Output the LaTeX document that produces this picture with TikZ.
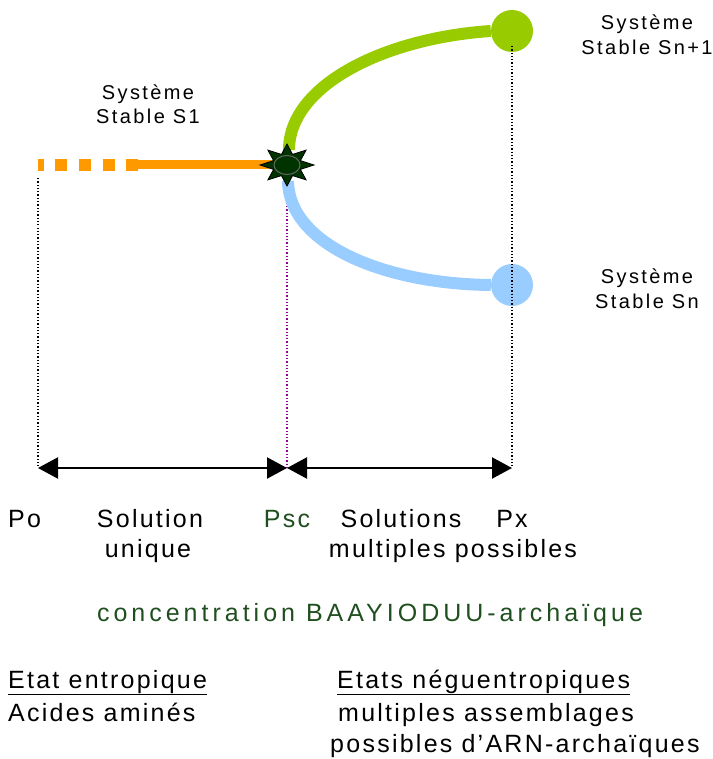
\documentclass[tikz,border=0pt]{standalone}
\usepackage{fontspec}
\setmainfont{Liberation Sans}[LetterSpace=9]
\newfontfamily\widefont{Liberation Sans}[LetterSpace=16]
\newfontfamily\sysfont{Liberation Sans}[LetterSpace=12]
\usetikzlibrary{shapes.geometric,arrows.meta}
\definecolor{orng}{HTML}{FF9900}
\definecolor{lgreen}{HTML}{99CC00}
\definecolor{lblue}{HTML}{99CCFF}
\definecolor{purp}{HTML}{990099}
\definecolor{dgreen}{HTML}{1F4F1F}
\definecolor{starcol}{HTML}{003300}
\tikzset{
  lbl/.style={font=\fontsize{25}{30}\selectfont, inner sep=0pt},
  sys/.style={font=\sysfont\fontsize{20}{24}\selectfont, inner sep=0pt, anchor=base},
  guide/.style={dotted, line width=1.3pt},
  span/.style={line width=2.2pt, {Triangle[length=20pt,width=21pt]}-{Triangle[length=20pt,width=21pt]}},
  disc/.style={circle, minimum size=42pt, inner sep=0pt},
}
\begin{document}
\begin{tikzpicture}[x=1pt,y=-1pt]
\useasboundingbox (0,0) rectangle (712,759);
% key coordinates
\coordinate (o) at (38,165);
\coordinate (dashend) at (138,165);
\coordinate (c) at (287,165);
\coordinate (a0) at (38,468);
\coordinate (a1) at (287,468);
\coordinate (a2) at (512,468);
\coordinate (g0) at (38,178);
\coordinate (g1) at (287,183);
\coordinate (g2) at (512,46);
\coordinate (gstart) at (289,150);
\coordinate (bstart) at (288,181);
% guides
\draw[guide, black] (g0) -- (a0);
\draw[guide, purp] (g1) -- (a1);
% discs
\node[disc, fill=lgreen] (ntop) at (512,31) {};
\node[disc, fill=lblue] (nbot) at (512,285) {};
\draw[guide, black] (g2) -- (a2);
% orange line
\draw[orng, line width=12pt, dash pattern=on 6pt off 11pt on 12pt off 12pt on 12pt off 12pt on 12pt off 11pt on 12pt off 100pt] (o) -- (dashend);
\draw[orng, line width=9pt] (dashend) -- (c);
% curves
\draw[lgreen, line width=12pt] (gstart) .. controls (289,85) and (385,38) .. (ntop.west);
\draw[lblue, line width=12pt] (bstart) .. controls (289,245) and (385,284) .. (nbot.west);
% star
\draw[fill=starcol, draw=black, line width=0.8pt, shift={(c)}]
  plot[samples at={0,22.5,...,337.5}, variable=\a]
  ({(mod(\a,45)==0 ? 27 : 14.5)*cos(\a)}, {(mod(\a,45)==0 ? 21 : 11.5)*sin(\a)}) -- cycle;
\node[ellipse, minimum width=26pt, minimum height=19pt, fill=starcol, draw=black!60, line width=1pt, inner sep=0pt] (core) at (c) {};
% arrows
\draw[span] (a0) -- (a1);
\draw[span] (a1) -- (a2);
% system labels
\node[sys] (s1a) at (148,100) {Système};
\node[sys] (s1b) at (148,124) {Stable S1};
\node[sys] (sn1a) at (647,30) {Système};
\node[sys] (sn1b) at (647,55) {Stable Sn+1};
\node[sys] (sna) at (647,283) {Système};
\node[sys] (snb) at (647,308) {Stable Sn};
% axis labels
\node[lbl, anchor=base west] (po) at (8,527) {Po};
\node[lbl, anchor=base] (sol) at (150,527) {Solution};
\node[lbl, anchor=base] (uni) at (148,557) {unique};
\node[lbl, anchor=base, text=dgreen] (psc) at (287,527) {Psc};
\node[lbl, anchor=base] (sols) at (401,527) {Solutions};
\node[lbl, anchor=base] (px) at (512,527) {Px};
\node[lbl, anchor=base] (mp) at (453,557) {multiples possibles};
\node[lbl, anchor=base, text=dgreen, font=\widefont\fontsize{25}{30}\selectfont] (conc) at (370,621) {concentration BAAYIODUU-archaïque};
% bottom
\node[lbl, anchor=base west] (ee) at (8,688) {\underline{Etat entropique}};
\node[lbl, anchor=base west] (aa) at (8,721) {Acides aminés};
\node[lbl, anchor=base west] (en) at (337,688) {\underline{Etats néguentropiques}};
\node[lbl, anchor=base west] (ma) at (338,721) {multiples assemblages};
\node[lbl, anchor=base west] (pa) at (330,752) {possibles d’ARN-archaïques};
\end{tikzpicture}
\end{document}
